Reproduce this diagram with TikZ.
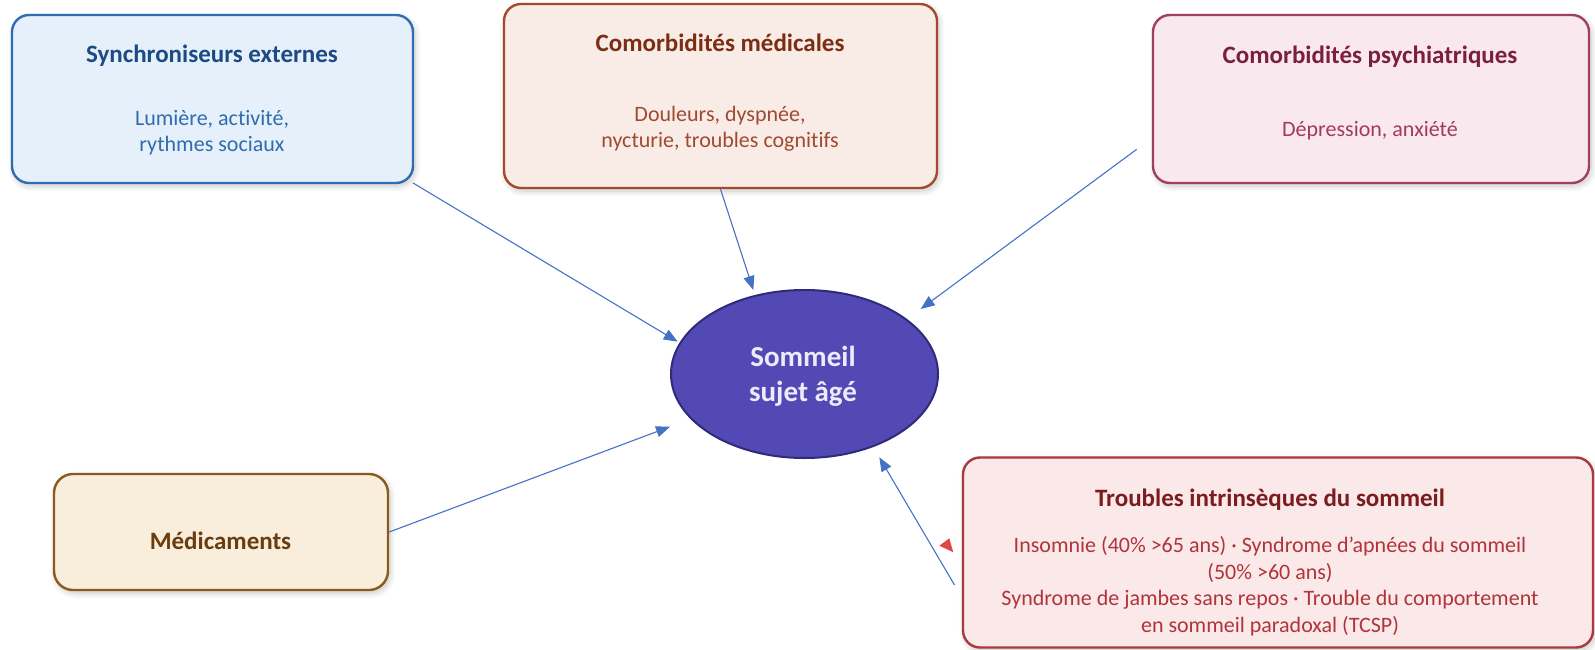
\documentclass[tikz,border=0pt]{standalone}
\usepackage{fontspec}
\setmainfont{Carlito}[Ligatures={NoCommon}]
\usetikzlibrary{arrows.meta,shapes.geometric,shadows.blur}

% palette
\definecolor{syncfill}{HTML}{E6F0FA}
\definecolor{syncline}{HTML}{2E6DB4}
\definecolor{synctitle}{HTML}{1B4A84}
\definecolor{synctext}{HTML}{2F6CB0}
\definecolor{medfill}{HTML}{F9EBE6}
\definecolor{medline}{HTML}{A34A2C}
\definecolor{medtitle}{HTML}{7A2E14}
\definecolor{medtext}{HTML}{A04A30}
\definecolor{psyfill}{HTML}{FAE8EF}
\definecolor{psyline}{HTML}{A0405F}
\definecolor{psytitle}{HTML}{7B1F40}
\definecolor{psytext}{HTML}{A13A63}
\definecolor{drugfill}{HTML}{F9EDDC}
\definecolor{drugline}{HTML}{8C5A1E}
\definecolor{drugtitle}{HTML}{6A3D0E}
\definecolor{intrfill}{HTML}{FBE8E8}
\definecolor{intrline}{HTML}{A83A3E}
\definecolor{intrtitle}{HTML}{7B1C1F}
\definecolor{intrtext}{HTML}{B0343A}
\definecolor{corefill}{HTML}{5249B5}
\definecolor{coreline}{HTML}{2F2A7A}
\definecolor{coretext}{HTML}{EDEAFB}
\definecolor{linkblue}{HTML}{4472C4}
\definecolor{tipred}{HTML}{E04848}

\tikzset{
  card/.style={rectangle, rounded corners=17pt, line width=2.4pt, inner sep=0pt,
    blur shadow={shadow xshift=2pt, shadow yshift=-3pt, shadow blur steps=10,
      shadow opacity=22, shadow blur radius=6pt}},
  cardtitle/.style={anchor=base, inner sep=0pt, font=\fontsize{25}{30}\selectfont\bfseries},
  cardtext/.style={anchor=base, inner sep=0pt, font=\fontsize{22}{27}\selectfont},
  coretitle/.style={anchor=base, inner sep=0pt, text=coretext,
    font=\fontsize{29}{35}\selectfont\bfseries},
  link/.style={draw=linkblue, line width=1.1pt, -{Triangle[length=14pt,width=11pt]}},
}

\begin{document}
\begin{tikzpicture}[x=1pt, y=-1pt]
\useasboundingbox (0,0) rectangle (1595,650);

% central ellipse
\node[ellipse, draw=coreline, fill=corefill, line width=2pt,
      minimum width=267pt, minimum height=168pt, inner sep=0pt] (core) at (804.5,374) {};
\node[coretitle] (coreA) at (803,366.7) {Sommeil};
\node[coretitle] (coreB) at (803,401.7) {sujet âgé};

% external synchronisers
\node[card, draw=syncline, fill=syncfill, minimum width=401pt, minimum height=168pt] (sync) at (212.5,99) {};
\node[cardtitle, text=synctitle] (syncT) at (212,63) {Synchroniseurs externes};
\node[cardtext, text=synctext] (syncA) at (212,125) {Lumière, activité,};
\node[cardtext, text=synctext] (syncB) at (212,151) {rythmes sociaux};

% medical comorbidities
\node[card, draw=medline, fill=medfill, minimum width=433pt, minimum height=184pt] (med) at (720.5,96) {};
\node[cardtitle, text=medtitle] (medT) at (720,51.7) {Comorbidités médicales};
\node[cardtext, text=medtext] (medA) at (720,121.7) {Douleurs, dyspnée,};
\node[cardtext, text=medtext] (medB) at (720,147) {nycturie, troubles cognitifs};

% psychiatric comorbidities
\node[card, draw=psyline, fill=psyfill, minimum width=436pt, minimum height=168pt] (psy) at (1371,99) {};
\node[cardtitle, text=psytitle] (psyT) at (1370,63.3) {Comorbidités psychiatriques};
\node[cardtext, text=psytext] (psyA) at (1370,136.7) {Dépression, anxiété};

% drugs
\node[card, draw=drugline, fill=drugfill, minimum width=334pt, minimum height=116pt, rounded corners=19pt] (drug) at (221,532) {};
\node[cardtitle, text=drugtitle] (drugT) at (220.5,549.3) {Médicaments};

% intrinsic sleep disorders
\node[card, draw=intrline, fill=intrfill, minimum width=630pt, minimum height=190pt] (intr) at (1278,552.5) {};
\node[cardtitle, text=intrtitle] (intrT) at (1270,506) {Troubles intrinsèques du sommeil};
\node[cardtext, text=intrtext] (intrA) at (1270,552.5) {Insomnie (40\% >65 ans) · Syndrome d’apnées du sommeil};
\node[cardtext, text=intrtext] (intrB) at (1270,579) {(50\% >60 ans)};
\node[cardtext, text=intrtext] (intrC) at (1270,605.5) {Syndrome de jambes sans repos · Trouble du comportement};
\node[cardtext, text=intrtext] (intrD) at (1270,632) {en sommeil paradoxal (TCSP)};

% arrow ends near the ellipse
\coordinate (tipSync) at (677.7,341.7);
\coordinate (tipMed) at (753.3,290);
\coordinate (tipPsy) at (920.7,309);
\coordinate (tipDrug) at (670,426.7);
\coordinate (tipIntr) at (879.3,457.3);
\coordinate (fromPsy) at (1136.7,149.3);
\coordinate (fromIntr) at (954.5,585);

\draw[link] (sync.south east) ++(-1.3,-1.3) -- (tipSync);
\draw[link] (med.south) -- (tipMed);
\draw[link] (fromPsy) -- (tipPsy);
\draw[link] (drug.east) -- (tipDrug);
\draw[link] (fromIntr) -- (tipIntr);

% small red marker beside the lower-right card
\fill[tipred] (939.3,545.7) -- (949.3,538.3) -- (953.3,552.3) -- cycle;
\end{tikzpicture}
\end{document}
